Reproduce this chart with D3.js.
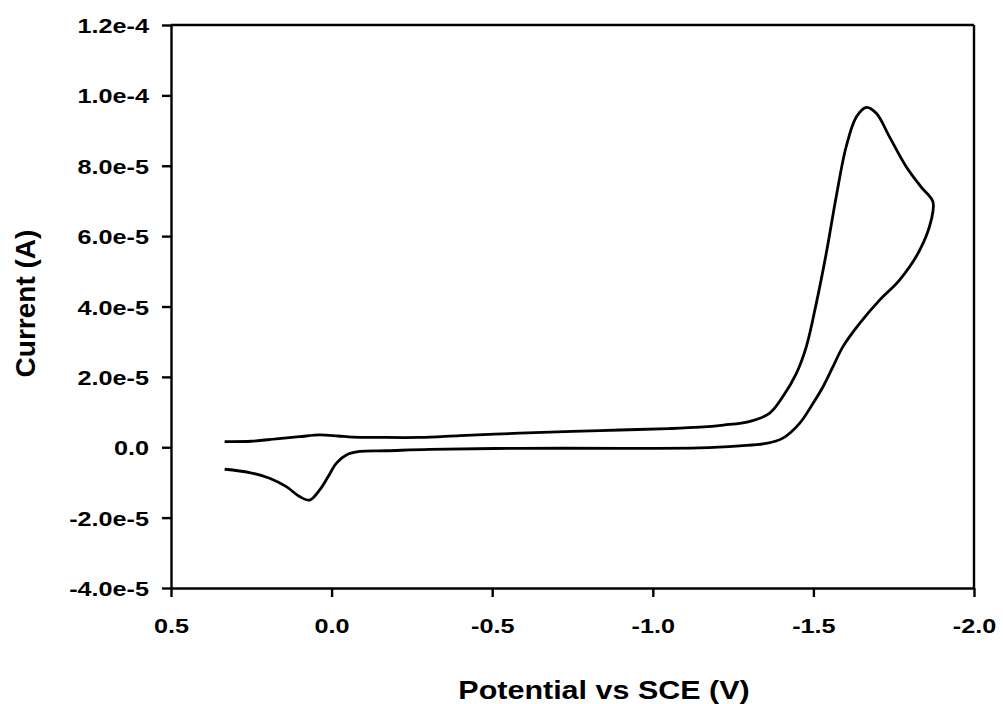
<!DOCTYPE html>
<html>
<head>
<meta charset="utf-8">
<script src="https://cdn.jsdelivr.net/npm/d3@7"></script>
<style>
html,body{margin:0;padding:0;background:#fff;}
svg{display:block;}
text{font-family:"Liberation Sans",Arial,sans-serif;font-weight:bold;fill:#000;}
</style>
</head>
<body>
<svg id="chart" width="1003" height="704"></svg>
<script>
// Forward scan (upper branch): potential (V) and current (A)
const forwardV = [0.333,0.25,0.172,0.10,0.037,-0.02,-0.065,-0.15,-0.274,-0.4,-0.585,-0.75,-0.897,-1.05,-1.146,-1.22,-1.30,-1.364,-1.405,-1.447,-1.478,-1.509,-1.540,-1.571,-1.602,-1.634,-1.665,-1.696,-1.737,-1.789,-1.835,-1.872];
const forwardI = [1.6e-6,1.7e-6,2.4e-6,3.0e-6,3.5e-6,3.2e-6,2.9e-6,2.8e-6,2.8e-6,3.3e-6,4.0e-6,4.5e-6,4.9e-6,5.3e-6,5.7e-6,6.3e-6,7.3e-6,9.7e-6,1.44e-5,2.1e-5,2.86e-5,4.09e-5,5.51e-5,7.12e-5,8.54e-5,9.39e-5,9.66e-5,9.49e-5,8.82e-5,7.97e-5,7.4e-5,6.98e-5];
// Reverse scan (lower branch)
const reverseV = [-1.867,-1.831,-1.768,-1.706,-1.644,-1.592,-1.561,-1.530,-1.499,-1.457,-1.405,-1.353,-1.27,-1.146,-0.9,-0.585,-0.305,-0.17,-0.087,-0.046,-0.015,0.011,0.037,0.068,0.100,0.141,0.193,0.255,0.333];
const reverseI = [6.46e-5,5.6e-5,4.75e-5,4.18e-5,3.52e-5,2.86e-5,2.29e-5,1.72e-5,1.25e-5,6.8e-6,2.6e-6,1.1e-6,0.4e-6,-0.2e-6,-0.3e-6,-0.3e-6,-0.6e-6,-1.0e-6,-1.2e-6,-2.2e-6,-4.5e-6,-8.4e-6,-12.1e-6,-15.0e-6,-14.0e-6,-11.2e-6,-8.8e-6,-7.2e-6,-6.25e-6];

const xTicks = [0.5,0.0,-0.5,-1.0,-1.5,-2.0];
const xTickLabels = ["0.5","0.0","-0.5","-1.0","-1.5","-2.0"];
const yTicks = [1.2e-4,1.0e-4,8.0e-5,6.0e-5,4.0e-5,2.0e-5,0,-2.0e-5,-4.0e-5];
const yTickLabels = ["1.2e-4","1.0e-4","8.0e-5","6.0e-5","4.0e-5","2.0e-5","0.0","-2.0e-5","-4.0e-5"];

const L = 171, R = 974, T = 25, B = 588;
const svg = d3.select("#chart");
const x = d3.scaleLinear().domain([0.5,-2.0]).range([L,R]);
const y = d3.scaleLinear().domain([-4e-5,1.2e-4]).range([B,T]);

const pts = forwardV.map((v,i)=>[v,forwardI[i]]).concat(reverseV.map((v,i)=>[v,reverseI[i]]));
const line = d3.line().x(d=>x(d[0])).y(d=>y(d[1])).curve(d3.curveCatmullRom.alpha(0.5));

svg.append("path").datum(pts).attr("d",line)
  .attr("fill","none").attr("stroke","#000").attr("stroke-width",2.8)
  .attr("stroke-linejoin","round");

// frame
svg.append("line").attr("x1",L).attr("x2",R).attr("y1",T).attr("y2",T).attr("stroke","#000").attr("stroke-width",2.4);
svg.append("line").attr("x1",R).attr("x2",R).attr("y1",T).attr("y2",B).attr("stroke","#000").attr("stroke-width",2.4);

const xAxis = svg.append("g").attr("transform",`translate(0,${B})`)
  .call(d3.axisBottom(x).tickValues(xTicks).tickFormat((d,i)=>xTickLabels[i]).tickSize(9).tickSizeOuter(0).tickPadding(10));
const yAxis = svg.append("g").attr("transform",`translate(${L},0)`)
  .call(d3.axisLeft(y).tickValues(yTicks).tickFormat((d,i)=>yTickLabels[i]).tickSize(9).tickSizeOuter(0).tickPadding(10));

[xAxis,yAxis].forEach(g=>{
  g.select(".domain").attr("stroke","#000").attr("stroke-width",2.4);
  g.selectAll(".tick line").attr("stroke","#000").attr("stroke-width",2.4);
  g.selectAll("text").style("font-size","21px").style("font-family",'"Liberation Sans",Arial,sans-serif').style("font-weight","bold");
});
xAxis.selectAll("text").attr("y",null).attr("dy",null)
  .attr("transform","translate(0,45) scale(1.2,1)");
yAxis.selectAll("text").attr("x",null).attr("dy",null)
  .attr("transform","translate(-22,7.5) scale(1.2,1)");

svg.append("text").attr("transform",`translate(604,699) scale(1.22,1)`)
  .attr("text-anchor","middle").style("font-size","25px").text("Potential vs SCE (V)");
svg.append("text").attr("transform",`translate(35,${(T+B)/2-3}) rotate(-90)`)
  .attr("text-anchor","middle").style("font-size","28px").text("Current (A)");
</script>
</body>
</html>
